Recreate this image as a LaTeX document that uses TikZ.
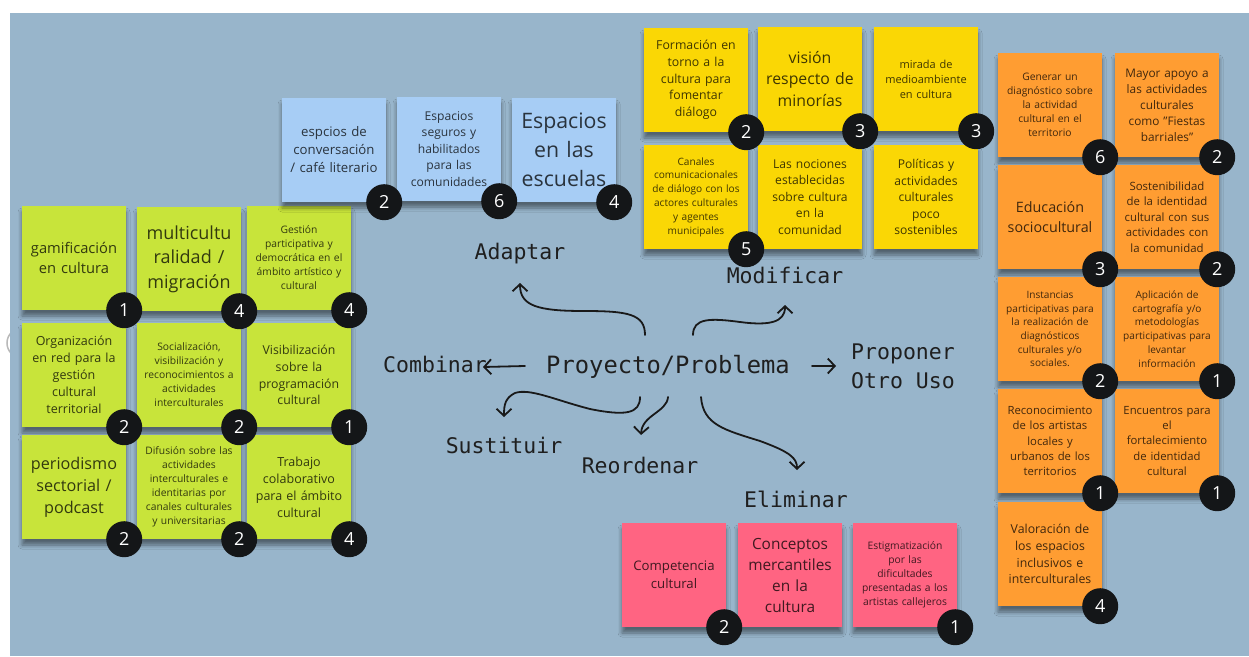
\documentclass[tikz,border=0pt]{standalone}
\usepackage{fontspec}
\setmainfont{Open Sans}
\newfontfamily\labelfont{DejaVu Sans Mono}
\usetikzlibrary{calc}
\usetikzlibrary{arrows.meta}
\usetikzlibrary{shadows.blur}

\definecolor{board}{RGB}{152,181,203}
\definecolor{notegreen}{RGB}{200,228,58}
\definecolor{noteblue}{RGB}{167,205,245}
\definecolor{noteyellow}{RGB}{250,215,5}
\definecolor{noteorange}{RGB}{255,157,50}
\definecolor{notepink}{RGB}{255,100,130}
\definecolor{dotblack}{RGB}{20,22,24}

\newcommand{\fsz}[2]{\fontsize{#1}{#2}\selectfont}

\tikzset{
  note/.style={rectangle, minimum width=104pt, minimum height=104pt, text width=96pt,
    inner sep=4pt, align=center, text=black, text opacity=0.75,
    blur shadow={shadow xshift=0pt, shadow yshift=-6pt, shadow blur radius=4pt, shadow opacity=45}},
  green note/.style={note, fill=notegreen},
  blue note/.style={note, fill=noteblue},
  yellow note/.style={note, fill=noteyellow},
  orange note/.style={note, fill=noteorange},
  pink note/.style={note, fill=notepink},
  votes/.style={circle, fill=dotblack, text=white, minimum size=36pt, inner sep=0pt, font=\fsz{18}{18}},
  idea/.style={font=\labelfont\fsz{21.5}{29}, text=black!88, align=left, inner sep=0pt},
  arr/.style={line width=1.8pt, draw=black!90, line cap=round, -{Straight Barb[length=7pt,width=15pt]}}
}

\begin{document}
\begin{tikzpicture}[x=1pt, y=-1pt]

\useasboundingbox (0,0) rectangle (1249,656);
\draw[gray!55, line width=1.5pt] (22,343) circle (15);
\fill[board] (10,13) rectangle (1249,656);

% green notes
\node[green note, font=\fsz{14.7}{20}] (g1) at (74,258) {gamificación\\en cultura};
\node[green note, font=\fsz{18}{24.5}] (g2) at (189,259) {multicultu\\ralidad /\\migración};
\node[green note, font=\fsz{10.3}{14}] (g3) at (299,258) {Gestión\\participativa y\\democrática en el\\ámbito artístico y\\cultural};
\node[green note, font=\fsz{12.5}{17}] (g4) at (74,375) {Organización\\en red para la\\gestión\\cultural\\territorial};
\node[green note, font=\fsz{10.3}{14}] (g5) at (189,375) {Socialización,\\visibilización y\\reconocimientos a\\actividades\\interculturales};
\node[green note, font=\fsz{12.3}{16.7}] (g6) at (299,375) {Visibilización\\sobre la\\programación\\cultural};
\node[green note, font=\fsz{16.2}{22}] (g7) at (74,487) {periodismo\\sectorial /\\podcast};
\node[green note, font=\fsz{10.3}{14}] (g8) at (189,487) {Difusión sobre las\\actividades\\interculturales e\\identitarias por\\canales culturales\\y universitarias};
\node[green note, font=\fsz{12.5}{17}] (g9) at (299,487) {Trabajo\\colaborativo\\para el ámbito\\cultural};

% blue notes
\node[blue note, font=\fsz{13.2}{18}] (b1) at (334,150) {espcios de\\conversación\\/ café literario};
\node[blue note, font=\fsz{12.1}{16.5}] (b2) at (449,149) {Espacios\\seguros y\\habilitados\\para las\\comunidades};
\node[blue note, font=\fsz{21.3}{29}] (b3) at (564,150) {Espacios\\en las\\escuelas};

% yellow notes
\node[yellow note, font=\fsz{12.3}{16.7}] (y1) at (696,80) {Formación en\\torno a la\\cultura para\\fomentar\\diálogo};
\node[yellow note, font=\fsz{15.8}{21.5}] (y2) at (810,79) {visión\\respecto de\\minorías};
\node[yellow note, font=\fsz{11}{15}] (y3) at (926,79) {mirada de\\medioambiente\\en cultura};
\node[yellow note, font=\fsz{10.1}{13.8}] (y4) at (696,197) {Canales\\comunicacionales\\de diálogo con los\\actores culturales\\y agentes\\municipales};
\node[yellow note, font=\fsz{12.1}{16.5}] (y5) at (810,197) {Las nociones\\establecidas\\sobre cultura\\en la\\comunidad};
\node[yellow note, font=\fsz{12.1}{16.5}] (y6) at (926,197) {Políticas y\\actividades\\culturales\\poco\\sostenibles};

% orange notes
\node[orange note, font=\fsz{10.3}{14}] (o1) at (1050,105) {Generar un\\diagnóstico sobre\\la actividad\\cultural en el\\territorio};
\node[orange note, font=\fsz{11.8}{16}] (o2) at (1167,105) {Mayor apoyo a\\las actividades\\culturales\\como \symbol{34}Fiestas\\barriales\symbol{34}};
\node[orange note, font=\fsz{14.3}{19.5}] (o3) at (1050,217) {Educación\\sociocultural};
\node[orange note, font=\fsz{11.4}{15.5}] (o4) at (1167,217) {Sostenibilidad\\de la identidad\\cultural con sus\\actividades con\\la comunidad};
\node[orange note, font=\fsz{10.1}{13.7}] (o5) at (1050,329) {Instancias\\participativas para\\la realización de\\diagnósticos\\culturales y/o\\sociales.};
\node[orange note, font=\fsz{10.1}{13.7}] (o6) at (1167,329) {Aplicación de\\cartografía y/o\\metodologías\\participativas para\\levantar\\información};
\node[orange note, font=\fsz{11.3}{15.3}] (o7) at (1050,441) {Reconocimiento\\de los artistas\\locales y\\urbanos de los\\territorios};
\node[orange note, font=\fsz{11.3}{15.3}] (o8) at (1167,441) {Encuentros para\\el\\fortalecimiento\\de identidad\\cultural};
\node[orange note, font=\fsz{12.3}{16.7}] (o9) at (1050,554) {Valoración de\\los espacios\\inclusivos e\\interculturales};

% pink notes
\node[pink note, font=\fsz{13.2}{18}] (p1) at (674,575) {Competencia\\cultural};
\node[pink note, font=\fsz{15.4}{21}] (p2) at (790,575) {Conceptos\\mercantiles\\en la\\cultura};
\node[pink note, font=\fsz{10.3}{14}] (p3) at (905,575) {Estigmatización\\por las\\dificultades\\presentadas a los\\artistas callejeros};

% votes
\node[votes] (g1v) at ($(g1.south east)+(-2,0)$) {1};
\node[votes] (g2v) at ($(g2.south east)+(-2,0)$) {4};
\node[votes] (g3v) at ($(g3.south east)+(-2,0)$) {4};
\node[votes] (g4v) at ($(g4.south east)+(-2,0)$) {2};
\node[votes] (g5v) at ($(g5.south east)+(-2,0)$) {2};
\node[votes] (g6v) at ($(g6.south east)+(-2,0)$) {1};
\node[votes] (g7v) at ($(g7.south east)+(-2,0)$) {2};
\node[votes] (g8v) at ($(g8.south east)+(-2,0)$) {2};
\node[votes] (g9v) at ($(g9.south east)+(-2,0)$) {4};
\node[votes] (b1v) at ($(b1.south east)+(-2,0)$) {2};
\node[votes] (b2v) at ($(b2.south east)+(-2,0)$) {6};
\node[votes] (b3v) at ($(b3.south east)+(-2,0)$) {4};
\node[votes] (y1v) at ($(y1.south east)+(-2,0)$) {2};
\node[votes] (y2v) at ($(y2.south east)+(-2,0)$) {3};
\node[votes] (y3v) at ($(y3.south east)+(-2,0)$) {3};
\node[votes] (y4v) at ($(y4.south east)+(-2,0)$) {5};
\node[votes] (o1v) at ($(o1.south east)+(-2,0)$) {6};
\node[votes] (o2v) at ($(o2.south east)+(-2,0)$) {2};
\node[votes] (o3v) at ($(o3.south east)+(-2,0)$) {3};
\node[votes] (o4v) at ($(o4.south east)+(-2,0)$) {2};
\node[votes] (o5v) at ($(o5.south east)+(-2,0)$) {2};
\node[votes] (o6v) at ($(o6.south east)+(-2,0)$) {1};
\node[votes] (o7v) at ($(o7.south east)+(-2,0)$) {1};
\node[votes] (o8v) at ($(o8.south east)+(-2,0)$) {1};
\node[votes] (o9v) at ($(o9.south east)+(-2,0)$) {4};
\node[votes] (p1v) at ($(p1.south east)+(-2,0)$) {2};
\node[votes] (p3v) at ($(p3.south east)+(-2,0)$) {1};

% center and verbs
\node[idea, font=\labelfont\fsz{23.8}{29}] (prob) at (668,367) {Proyecto/Problema};
\node[idea] (adapt) at (520,254) {Adaptar};
\node[idea] (modif) at (785,275) {Modificar};
\node[idea] (comb) at (435,364) {Combinar};
\node[idea] (prop) at (903,366) {Proponer\\Otro Uso};
\node[idea] (sust) at (504,445) {Sustituir};
\node[idea] (reord) at (640,465) {Reordenar};
\node[idea] (elim) at (796,499) {Eliminar};

\draw[arr] ($(prob)+(-23,-32)$) .. controls (645,314) and (628,311) .. (584,311)
  .. controls (538,311) and (520,306) .. ($(adapt)+(0,29)$);
\draw[arr] ($(prob)+(25,-32)$) .. controls (693,318) and (710,318) .. (740,322)
  .. controls (770,326) and (785,322) .. ($(modif)+(0,30)$);
\draw[arr] ($(prob)+(-143,-1)$) -- ($(comb)+(48,3)$);
\draw[arr] ($(prob)+(144,-1)$) -- ($(prop)+(-67,0)$);
\draw[arr] ($(prob)+(-28,30)$) .. controls (640,414) and (625,416) .. (590,409)
  .. controls (555,400) and (530,388) .. (515,393)
  .. controls (505,398) and (504,405) .. ($(sust)+(0,-28)$);
\draw[arr] ($(prob)+(0,30)$) .. controls (667,412) and (642,415) .. ($(reord)+(1,-30)$);
\draw[arr] ($(prob)+(33,30)$) .. controls (703,425) and (725,430) .. (760,441)
  .. controls (790,452) and (797,458) .. ($(elim)+(1,-29)$);

\end{tikzpicture}
\end{document}
